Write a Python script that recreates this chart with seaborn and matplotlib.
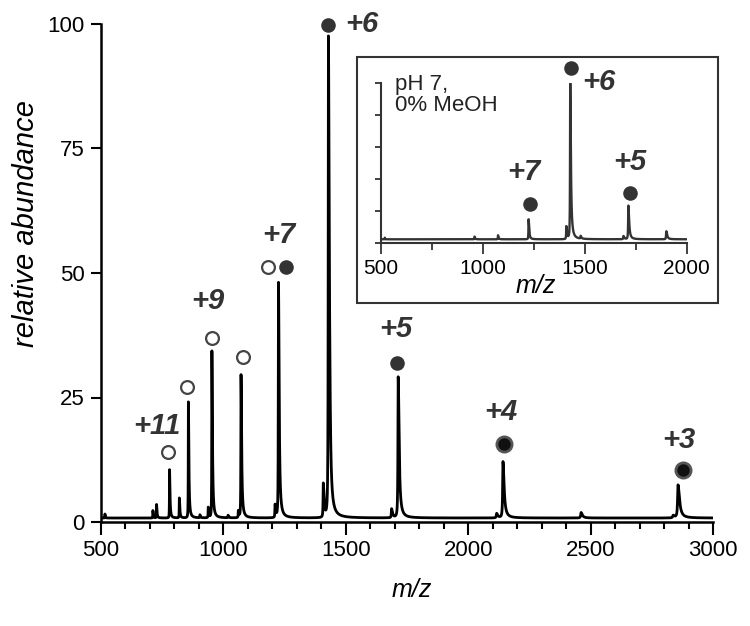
import numpy as np
import pandas as pd
import seaborn as sns
import matplotlib.pyplot as plt
from matplotlib.patches import Rectangle
from matplotlib.ticker import MultipleLocator

## peaks (m/z, height above baseline)
main_mz = [516, 712, 727, 780, 820, 857, 904, 938, 953, 1019, 1061, 1072,
           1211, 1225, 1408, 1429, 1434, 1687, 1714, 2116, 2142, 2461, 2837, 2857]
main_h = [0.8, 1.5, 2.7, 9.7, 4.0, 23.3, 0.6, 2.1, 33.5, 0.5, 1.4, 28.7,
          2.6, 47.2, 6.8, 96.3, 8.0, 1.8, 28.3, 0.9, 11.3, 1.1, 0.5, 6.6]
main_base = 0.8

inset_mz = [520, 960, 1075, 1225, 1410, 1429, 1480, 1690, 1714, 1900]
inset_h = [1.0, 1.7, 2.5, 12.5, 8.0, 97.5, 1.7, 2.0, 21.0, 5.0]
inset_base = 2.5

## charge state markers
open_mz = [775, 852, 955, 1079, 1183]
open_y = [14.0, 27.2, 37.0, 33.2, 51.3]
filled_mz = [1254, 1429, 1708]
filled_y = [51.3, 99.8, 32.0]
dark_mz = [2146, 2876]
dark_y = [15.7, 10.4]

charges = ['+11', '+9', '+7', '+6', '+5', '+4', '+3']
charge_mz = [729, 937, 1227, 1566, 1705, 2134, 2861]
charge_y = [19.3, 44.4, 57.6, 100.0, 38.8, 22.1, 16.5]

inset_marker_mz = [1233, 1435, 1722]
inset_marker_y = [24.6, 109.4, 31.3]
inset_charges = ['+7', '+6', '+5']
inset_charge_mz = [1200, 1570, 1722]
inset_charge_y = [44.3, 100.5, 50.5]


def spectrum(grid, mzs, hs, base):
    # asymmetric lorentzian profile for every peak, tailing to high m/z
    y = np.full_like(grid, base)
    for mz, h in zip(mzs, hs):
        w = np.where(grid < mz, mz * 0.0007, mz * 0.0025)
        y += h / (1 + ((grid - mz) / w) ** 2)
    return y


grid = np.arange(500, 3000.25, 0.25)
df_main = pd.DataFrame({'mz': grid, 'abund': spectrum(grid, main_mz, main_h, main_base)})
grid_in = np.arange(500, 2000.25, 0.25)
df_inset = pd.DataFrame({'mz': grid_in, 'abund': spectrum(grid_in, inset_mz, inset_h, inset_base)})

sns.set_style('ticks')
plt.rcParams['font.family'] = ['Liberation Sans', 'DejaVu Sans']
plt.rcParams['text.color'] = 'black'
plt.rcParams['axes.labelcolor'] = 'black'
plt.rcParams['xtick.color'] = 'black'
plt.rcParams['ytick.color'] = 'black'

fig = plt.figure(figsize=(7.5, 6.26), dpi=100)
ax = fig.add_axes([101 / 750, 1 - 522 / 626, 612 / 750, 498 / 626])

sns.lineplot(data=df_main, x='mz', y='abund', ax=ax, color='black', lw=2, zorder=3)
ax.scatter(open_mz, open_y, s=85, facecolor='white', edgecolor='#444444', lw=1.6, zorder=4, clip_on=False)
ax.scatter(filled_mz, filled_y, s=110, color='#333333', lw=0, zorder=4, clip_on=False)
ax.scatter(dark_mz, dark_y, s=120, facecolor='#111111', edgecolor='#555555', lw=2, zorder=4, clip_on=False)
for t, x, y in zip(charges, charge_mz, charge_y):
    ax.text(x, y, t, fontsize=21, fontweight='bold', fontstyle='italic', color='#333333',
            ha='center', va='center', clip_on=False)

ax.set_xlim(500, 3000)
ax.set_ylim(0, 100)
ax.set_xticks([500, 1000, 1500, 2000, 2500, 3000])
ax.set_yticks([0, 25, 50, 75, 100])
ax.xaxis.set_minor_locator(MultipleLocator(100))
ax.tick_params(axis='x', which='major', direction='out', length=9, width=1.5, labelsize=16, pad=4,
               color='black', labelcolor='black')
ax.tick_params(axis='x', which='minor', direction='out', length=5, width=1.5, color='black')
ax.tick_params(axis='y', which='major', direction='out', length=7, width=1.5, labelsize=16, pad=5,
               color='black', labelcolor='black')
sns.despine(ax=ax)
for s in ['left', 'bottom']:
    ax.spines[s].set_linewidth(1.8)
    ax.spines[s].set_color('black')
ax.set_xlabel('m/z', fontsize=18, fontstyle='italic', color='black')
ax.set_ylabel('relative abundance', fontsize=21, fontstyle='italic', color='black')
ax.xaxis.set_label_coords(0.508, -0.112)
ax.yaxis.set_label_coords(-0.10, 0.60)

## inset
fig.add_artist(Rectangle((356.7 / 750, 1 - 303.3 / 626), 361.6 / 750, 246.6 / 626,
                         transform=fig.transFigure, fill=False, edgecolor='#333333', lw=1.5))
axi = fig.add_axes([380.7 / 750, 1 - 243.3 / 626, 306 / 750, 160 / 626])
axi.patch.set_alpha(0)
sns.lineplot(data=df_inset, x='mz', y='abund', ax=axi, color='#333333', lw=1.7, zorder=3)
axi.scatter(inset_marker_mz, inset_marker_y, s=110, color='#333333', lw=0, zorder=4, clip_on=False)
for t, x, y in zip(inset_charges, inset_charge_mz, inset_charge_y):
    axi.text(x, y, t, fontsize=21, fontweight='bold', fontstyle='italic', color='#333333',
             ha='center', va='center', clip_on=False)
axi.text(570, 106, 'pH 7,\n0% MeOH', fontsize=16, color='#222222', ha='left', va='top',
         linespacing=1.05)

axi.set_xlim(500, 2000)
axi.set_ylim(0, 100)
axi.set_xticks([500, 1000, 1500, 2000])
axi.set_yticks([0, 20, 40, 60, 80, 100])
axi.xaxis.set_minor_locator(MultipleLocator(250))
axi.tick_params(axis='x', which='major', direction='out', length=8, width=1.3, labelsize=15, pad=3,
                color='#333333', labelcolor='black')
axi.tick_params(axis='x', which='minor', direction='out', length=5, width=1.3, color='#333333')
axi.tick_params(axis='y', which='major', direction='out', length=4, width=1.3, labelleft=False, color='#333333')
sns.despine(ax=axi)
for s in ['left', 'bottom']:
    axi.spines[s].set_linewidth(1.5)
    axi.spines[s].set_color('#333333')
axi.set_xlabel('m/z', fontsize=18, fontstyle='italic', color='black')
axi.set_ylabel('')
axi.xaxis.set_label_coords(0.506, -0.19)

fig.savefig('out.png', dpi=100)
